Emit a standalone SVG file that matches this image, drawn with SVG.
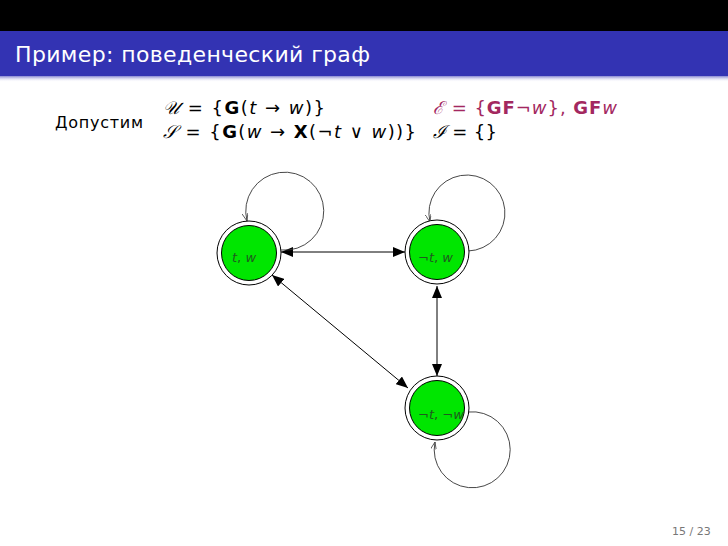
<svg xmlns="http://www.w3.org/2000/svg" width="728" height="546" viewBox="0 0 728 546">
<defs>
<linearGradient id="shadow" x1="0" y1="0" x2="0" y2="1">
<stop offset="0" stop-color="#3333b3" stop-opacity="0.6"/>
<stop offset="1" stop-color="#ffffff" stop-opacity="0"/>
</linearGradient>
<marker id="ah" viewBox="0 0 12 10" refX="12" refY="5" markerWidth="12" markerHeight="10" markerUnits="userSpaceOnUse" orient="auto-start-reverse">
<path d="M0,0 L12,5 L0,10 Z" fill="#000"/>
</marker>
<marker id="la" viewBox="0 0 8 6" refX="8" refY="3" markerWidth="8" markerHeight="6" markerUnits="userSpaceOnUse" orient="auto">
<path d="M0,0 L8,3 L0,6" fill="none" stroke="#444" stroke-width="0.8"/>
</marker>
</defs>
<style>
.title{font-family:"DejaVu Sans","Liberation Sans",sans-serif;font-size:22px;fill:#fff}
.txt{font-family:"DejaVu Sans","Liberation Sans",sans-serif;font-size:16px;fill:#000}
.math{font-family:"DejaVu Sans","Liberation Sans",sans-serif;font-size:18px;fill:#000}
.cal{font-family:"DejaVu Serif","Liberation Serif",serif;font-style:italic}
.it{font-style:italic}
.bf{font-weight:bold}
.alert{fill:#a3285f}
.outer{fill:#fff;stroke:#000;stroke-width:1}
.inner{fill:#00e600;stroke:#000;stroke-width:1}
.lbl{font-family:"DejaVu Sans","Liberation Sans",sans-serif;font-size:13px;fill:#1f5a1f}
.edge{fill:none;stroke:#000;stroke-width:1}
.loop{fill:none;stroke:#333;stroke-width:0.9}
.pg{font-family:"DejaVu Sans","Liberation Sans",sans-serif;font-size:11px;fill:#777}
</style>
<rect x="0" y="0" width="728" height="546" fill="#fff"/>
<rect x="0" y="0" width="728" height="31" fill="#000"/>
<rect x="0" y="31" width="728" height="45" fill="#3333b3"/>
<rect x="0" y="76" width="728" height="6" fill="url(#shadow)"/>
<text class="title" x="15" y="62" textLength="355">Пример: поведенческий граф</text>

<text class="txt" x="55" y="128" textLength="88">Допустим</text>
<text class="math" x="163" y="114" textLength="162"><tspan class="cal">𝒰</tspan> = {<tspan class="bf">G</tspan>(<tspan class="it">t</tspan> → <tspan class="it">w</tspan>)}</text>
<text class="math" x="163" y="138" textLength="253"><tspan class="cal">𝒮</tspan> = {<tspan class="bf">G</tspan>(<tspan class="it">w</tspan> → <tspan class="bf">X</tspan>(¬<tspan class="it">t</tspan> ∨ <tspan class="it">w</tspan>))}</text>
<text class="math alert" x="433" y="114" textLength="184"><tspan class="cal">ℰ</tspan> = {<tspan class="bf">GF</tspan>¬<tspan class="it">w</tspan>}, <tspan class="bf">GF</tspan><tspan class="it">w</tspan></text>
<text class="math" x="433" y="138" textLength="64"><tspan class="cal">ℐ</tspan> = {}</text>

<g id="edges">
<path class="edge" d="M281,252 L405,252" marker-start="url(#ah)" marker-end="url(#ah)"/>
<path class="edge" d="M437,286 L437,376" marker-start="url(#ah)" marker-end="url(#ah)"/>
<path class="edge" d="M272,275 L408,388" marker-start="url(#ah)" marker-end="url(#ah)"/>
<path class="loop" d="M281,250 A39,39 0 1 0 247,221" marker-end="url(#la)"/>
<path class="loop" d="M468,251 A38,38 0 1 0 430,222" marker-end="url(#la)"/>
<path class="loop" d="M468,412 A38,38 0 1 1 435,442" marker-end="url(#la)"/>
</g>

<g id="n1">
<circle class="outer" cx="249" cy="253" r="32"/>
<circle class="inner" cx="249" cy="253" r="27.5"/>
<text class="lbl" x="232" y="262"><tspan class="it">t</tspan>, <tspan class="it">w</tspan></text>
</g>
<g id="n2">
<circle class="outer" cx="437" cy="252" r="32"/>
<circle class="inner" cx="437" cy="252" r="27.5"/>
<text class="lbl" x="418" y="262">¬<tspan class="it">t</tspan>, <tspan class="it">w</tspan></text>
</g>
<g id="n3">
<circle class="outer" cx="437" cy="408" r="32"/>
<circle class="inner" cx="437" cy="408" r="27.5"/>
<text class="lbl" x="418" y="419">¬<tspan class="it">t</tspan>, ¬<tspan class="it">w</tspan></text>
</g>

<text class="pg" x="672" y="535">15 / 23</text>
</svg>
